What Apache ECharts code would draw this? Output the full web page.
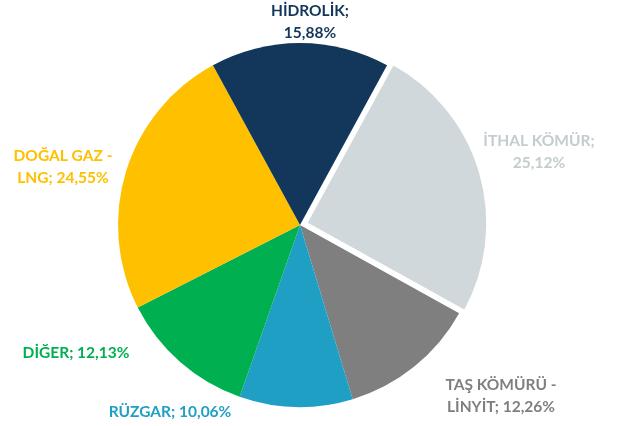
<!DOCTYPE html>
<html>
<head>
<meta charset="utf-8">
<script src="https://cdn.jsdelivr.net/npm/echarts@6/dist/echarts.min.js"></script>
<style>
  html, body { margin: 0; padding: 0; background: #fff; }
  #main { width: 619px; height: 426px; }
</style>
</head>
<body>
<div id="main"></div>
<script>
var names = ['İTHAL KÖMÜR', 'TAŞ KÖMÜRÜ - LİNYİT', 'RÜZGAR', 'DİĞER', 'DOĞAL GAZ - LNG', 'HİDROLİK'];
var values = [25.12, 12.26, 10.06, 12.13, 24.55, 15.88];
// label text as Excel wrapped it
var labelText = [
    'İTHAL KÖMÜR;\n25,12%',
    'TAŞ KÖMÜRÜ -\nLİNYİT; 12,26%',
    'RÜZGAR; 10,06%',
    'DİĞER; 12,13%',
    'DOĞAL GAZ -\nLNG; 24,55%',
    'HİDROLİK;\n15,88%'
];
var colors = ['#d0d8dc', '#7f7f7f', '#1f9fc4', '#00b050', '#ffc000', '#12375a'];
var textColors = ['#c4cccf', '#7f7f7f', '#1f9fc4', '#00b050', '#ffc000', '#12375a'];
// where Excel put each label (centre of text block)
var labelPos = [[539, 152], [501, 396], [170, 412], [76, 353], [63, 167], [310, 22]];

var cx = 300, cy = 225, R = 182, explode = 6;
var startAngle = 90 - values[5] * 3.6 / 2;
// the first slice (İTHAL KÖMÜR) is pulled out along its middle angle
var mid = (startAngle - values[0] * 1.8) * Math.PI / 180;
var ex = cx + explode * Math.cos(mid), ey = cy - explode * Math.sin(mid);

var myChart = echarts.init(document.getElementById('main'));

var option = {
    animation: false,
    series: [{
        type: 'pie',
        center: [cx, cy],
        radius: R,
        startAngle: startAngle,
        clockwise: true,
        avoidLabelOverlap: false,
        label: {
            show: true,
            position: 'outside',
            fontFamily: 'Lato',
            fontWeight: 'bold',
            fontSize: 15.5,
            lineHeight: 22,
            formatter: function (p) { return labelText[p.dataIndex]; }
        },
        labelLine: { show: false, length: 12, length2: 0 },
        labelLayout: function (p) {
            var pos = labelPos[p.dataIndex];
            return { x: pos[0], y: pos[1], align: 'center', verticalAlign: 'middle' };
        },
        data: names.map(function (n, i) {
            return {
                name: n,
                value: values[i],
                itemStyle: { color: i === 0 ? 'rgba(0,0,0,0)' : colors[i] },
                label: { color: textColors[i], align: 'center' }
            };
        })
    }, {
        type: 'pie',
        center: [ex, ey],
        radius: R,
        startAngle: startAngle,
        clockwise: true,
        silent: true,
        label: { show: false },
        labelLine: { show: false },
        data: names.map(function (n, i) {
            return {
                name: n,
                value: values[i],
                itemStyle: i === 0
                    ? { color: colors[0], borderColor: '#fff', borderWidth: 3 }
                    : { color: 'rgba(0,0,0,0)' }
            };
        })
    }]
};

myChart.setOption(option);
</script>
</body>
</html>
